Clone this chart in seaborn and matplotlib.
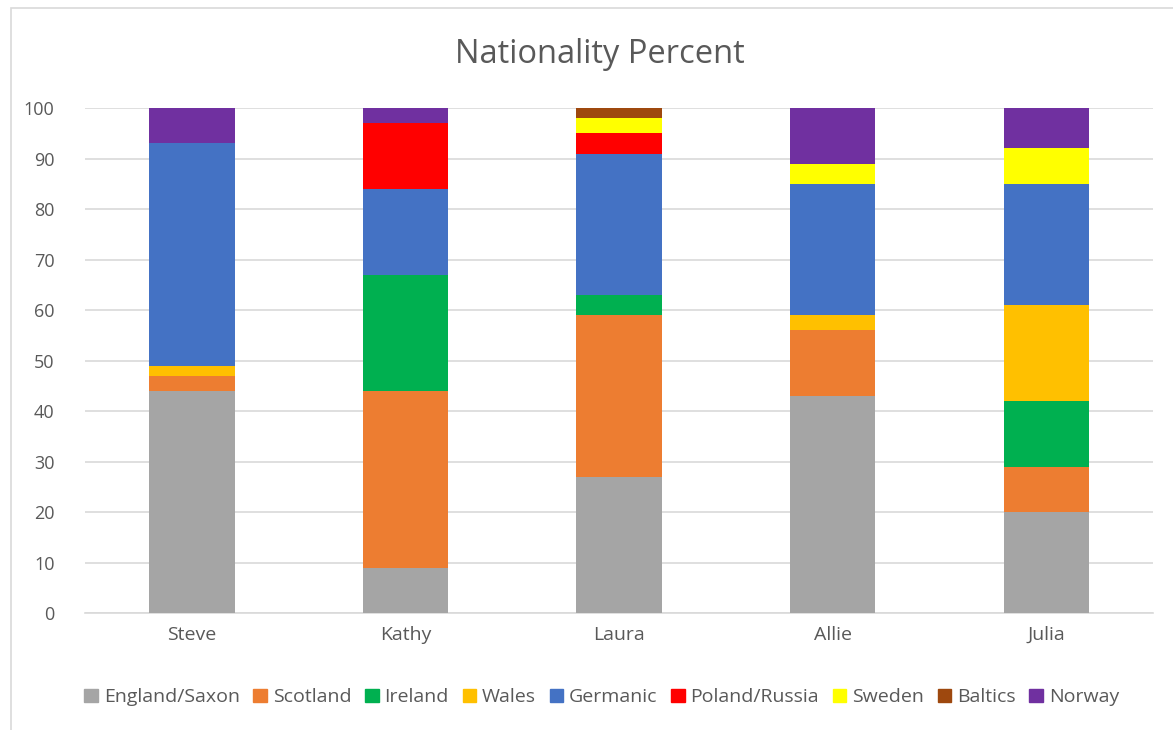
import seaborn as sns
import matplotlib.pyplot as plt
import matplotlib.patches as mpatches
import numpy as np

# People on the x axis
people = ['Steve', 'Kathy', 'Laura', 'Allie', 'Julia']

# Nationality series (percent), in stacking order
england = [44, 9, 27, 43, 20]
scotland = [3, 35, 32, 13, 9]
ireland = [0, 23, 4, 0, 13]
wales = [2, 0, 0, 3, 19]
germanic = [44, 17, 28, 26, 24]
poland = [0, 13, 4, 0, 0]
sweden = [0, 0, 3, 4, 7]
baltics = [0, 0, 2, 0, 0]
norway = [7, 3, 0, 11, 8]

series_names = ['England/Saxon', 'Scotland', 'Ireland', 'Wales', 'Germanic',
                'Poland/Russia', 'Sweden', 'Baltics', 'Norway']
series_vals = [england, scotland, ireland, wales, germanic, poland, sweden, baltics, norway]
colors = ['#A5A5A5', '#ED7D31', '#00B050', '#FFC000', '#4472C4',
          '#FF0000', '#FFFF00', '#9E480E', '#7030A0']

sns.set_style('white')
plt.rcParams['font.family'] = ['Open Sans', 'DejaVu Sans']
text_col = '#595959'

fig = plt.figure(figsize=(11.73, 7.30), dpi=100)
ax = fig.add_axes([0.0725, 0.160, 0.9105, 0.692])

bottom = np.zeros(len(people))
for name, vals, c in zip(series_names, series_vals, colors):
    sns.barplot(x=people, y=vals, bottom=bottom, color=c, width=0.4, saturation=1,
                ax=ax, linewidth=0, zorder=3)
    bottom = bottom + np.array(vals)

ax.set_ylim(0, 100)
ax.set_yticks(range(0, 101, 10))
ax.yaxis.grid(True, color='#D9D9D9', linewidth=1.2, zorder=0)
ax.set_axisbelow(True)
for s in ['top', 'right', 'left']:
    ax.spines[s].set_visible(False)
ax.spines['bottom'].set_color('#D9D9D9')
ax.spines['bottom'].set_linewidth(1.2)
ax.tick_params(axis='both', length=0, labelsize=13, colors=text_col, pad=10)
ax.tick_params(axis='x', labelsize=14, pad=9)
ax.tick_params(axis='y', pad=22)

fig.text(0.511, 0.925, 'Nationality Percent', ha='center', va='center',
         fontsize=23.5, color=text_col)

handles = [mpatches.Patch(color=c, label=n) for n, c in zip(series_names, colors)]
fig.legend(handles=handles, loc='center', bbox_to_anchor=(0.513, 0.045), ncol=9,
           frameon=False, fontsize=14, handlelength=0.7, handleheight=0.7,
           handletextpad=0.3, columnspacing=0.7, labelcolor=text_col)

# light chart border
fig.patches.append(mpatches.Rectangle((0.009, -0.01), 1.1, 0.999, transform=fig.transFigure,
                                      fill=False, edgecolor='#D9D9D9', linewidth=1.2))

fig.savefig('out.png', dpi=100)
